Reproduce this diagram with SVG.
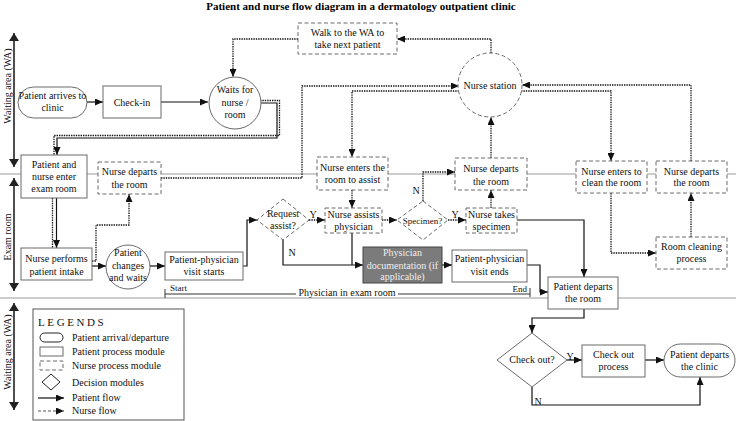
<svg xmlns="http://www.w3.org/2000/svg" width="736" height="421" viewBox="0 0 736 421">
<style>
.t{font-family:"Liberation Serif","Times New Roman",serif;font-size:10px;text-anchor:middle;fill:#111}
.tl{font-family:"Liberation Serif","Times New Roman",serif;font-size:10px;fill:#111}
.pb{fill:#fff;stroke:#6a6a6a;stroke-width:1}
.nb{fill:#fff;stroke:#6a6a6a;stroke-width:1;stroke-dasharray:4 2.5}
.pf{fill:none;stroke:#111;stroke-width:1.2}
.nf{fill:none;stroke:#111;stroke-width:1.3;stroke-dasharray:1.4 1}
.sep{stroke:#9a9a9a;stroke-width:1}
.ax{stroke:#222;stroke-width:1.6}
</style>
<defs>
<marker id="a" viewBox="0 0 8 7" refX="8" refY="3.5" markerWidth="8" markerHeight="7" markerUnits="userSpaceOnUse" orient="auto"><path d="M0,0L8,3.5L0,7z" fill="#111"/></marker>
<marker id="ax" viewBox="0 0 8 10" refX="8" refY="5" markerWidth="8" markerHeight="10" markerUnits="userSpaceOnUse" orient="auto"><path d="M0,0L8,5L0,10z" fill="#222"/></marker>
</defs>

<text x="361" y="10" style="font-family:'Liberation Serif',serif;font-size:11px;font-weight:bold;text-anchor:middle">Patient and nurse flow diagram in a dermatology outpatient clinic</text>

<g id="separators">
<line class="sep" x1="0" y1="174" x2="736" y2="174"/>
<line class="sep" x1="0" y1="298" x2="736" y2="298"/>
</g>

<g id="axes">
<line class="ax" x1="14" y1="100" x2="14" y2="33" marker-end="url(#ax)"/>
<line class="ax" x1="14" y1="100" x2="14" y2="167" marker-end="url(#ax)"/>
<text class="t" transform="translate(11,86) rotate(-90)">Waiting area (WA)</text>
<line class="ax" x1="14" y1="235" x2="14" y2="178" marker-end="url(#ax)"/>
<line class="ax" x1="14" y1="235" x2="14" y2="291" marker-end="url(#ax)"/>
<text class="t" transform="translate(11,237) rotate(-90)">Exam room</text>
<line class="ax" x1="14" y1="356" x2="14" y2="303" marker-end="url(#ax)"/>
<line class="ax" x1="14" y1="356" x2="14" y2="410" marker-end="url(#ax)"/>
<text class="t" transform="translate(11,352) rotate(-90)">Waiting area (WA)</text>
</g>

<g id="bracket">
<line x1="165" y1="289" x2="165" y2="298" stroke="#333"/>
<line x1="530" y1="288" x2="530" y2="297" stroke="#333"/>
<line x1="165" y1="294" x2="296" y2="294" stroke="#333"/>
<line x1="398" y1="294" x2="530" y2="294" stroke="#333"/>
<text class="tl" x="170" y="291" style="font-size:9px">Start</text>
<text class="tl" x="527" y="292" style="font-size:9px;text-anchor:end">End</text>
<text class="t" x="347" y="296">Physician in exam room</text>
</g>

<g id="connectors">
<path class="pf" d="M87,102H103" marker-end="url(#a)"/>
<path class="pf" d="M161,102H208" marker-end="url(#a)"/>
<path class="pf" d="M260,103H277V138H57V155" marker-end="url(#a)"/>
<path class="nf" d="M260,100.5H279.5V135.5H54V155"/>
<path class="pf" d="M56.5,198V248" marker-end="url(#a)"/>
<path class="nf" d="M52.5,198V248"/>
<path class="pf" d="M92,266H106" marker-end="url(#a)"/>
<path class="pf" d="M150,266H165" marker-end="url(#a)"/>
<path class="pf" d="M243,266H247V220H257" marker-end="url(#a)"/>
<path class="pf" d="M283,240V265H363" marker-end="url(#a)"/>
<path class="pf" d="M352,233V265"/>
<path class="pf" d="M442,265H452" marker-end="url(#a)"/>
<path class="pf" d="M527,265H540V292H548" marker-end="url(#a)"/>
<path class="pf" d="M517,220H584V277" marker-end="url(#a)"/>
<path class="pf" d="M584,309V318H532V333" marker-end="url(#a)"/>
<path class="pf" d="M567,360H582" marker-end="url(#a)"/>
<path class="pf" d="M645,360H664" marker-end="url(#a)"/>
<path class="pf" d="M532,387V405H700V377" marker-end="url(#a)"/>

<path class="nf" d="M491,53V39H397" marker-end="url(#a)"/>
<path class="nf" d="M298,39H233V77" marker-end="url(#a)"/>
<path class="nf" d="M161,178H302V86H459" marker-end="url(#a)"/>
<path class="nf" d="M459,91H352V157" marker-end="url(#a)"/>
<path class="nf" d="M352,190V208" marker-end="url(#a)"/>
<path class="nf" d="M309,220H325" marker-end="url(#a)"/>
<path class="nf" d="M382,220H397" marker-end="url(#a)"/>
<path class="nf" d="M423,201V172H455" marker-end="url(#a)"/>
<path class="nf" d="M448,220H466" marker-end="url(#a)"/>
<path class="nf" d="M491,208V190" marker-end="url(#a)"/>
<path class="nf" d="M491,158V117" marker-end="url(#a)"/>
<path class="nf" d="M92,261H96V225H129V194" marker-end="url(#a)"/>
<path class="nf" d="M521,91H611V161" marker-end="url(#a)"/>
<path class="nf" d="M611,193V253H656" marker-end="url(#a)"/>
<path class="nf" d="M691,237V193" marker-end="url(#a)"/>
<path class="nf" d="M691,161V85H522" marker-end="url(#a)"/>

<text class="t" x="313" y="218">Y</text>
<text class="t" x="292" y="256">N</text>
<text class="t" x="416" y="194">N</text>
<text class="t" x="455" y="218">Y</text>
<text class="t" x="570" y="360">Y</text>
<text class="t" x="538" y="405">N</text>
</g>

<g id="arrives"><rect class="pb" x="18" y="87" width="69" height="31" rx="15.5"/><text class="t" x="52.5" y="99">Patient arrives to</text><text class="t" x="52.5" y="111">clinic</text></g>
<g id="checkin"><rect class="pb" x="103" y="86" width="58" height="32"/><text class="t" x="132" y="106">Check-in</text></g>
<g id="waits"><circle class="pb" cx="235" cy="103" r="26"/><text class="t" x="235" y="93">Waits for</text><text class="t" x="235" y="106">nurse /</text><text class="t" x="235" y="118">room</text></g>
<g id="walk"><rect class="nb" x="298" y="23" width="99" height="31"/><text class="t" x="347.5" y="36">Walk to the WA to</text><text class="t" x="347.5" y="48">take next patient</text></g>
<g id="station"><circle class="nb" cx="490" cy="85" r="32"/><text class="t" x="490" y="89">Nurse station</text></g>
<g id="enter"><rect class="pb" x="21" y="155" width="66" height="43"/><text class="t" x="54" y="168">Patient and</text><text class="t" x="54" y="180">nurse enter</text><text class="t" x="54" y="192">exam room</text></g>
<g id="departs1"><rect class="nb" x="98" y="162" width="63" height="32"/><text class="t" x="129.5" y="175">Nurse departs</text><text class="t" x="129.5" y="188">the room</text></g>
<g id="intake"><rect class="pb" x="21" y="248" width="71" height="32"/><text class="t" x="56.5" y="262">Nurse performs</text><text class="t" x="56.5" y="275">patient intake</text></g>
<g id="changes"><circle class="pb" cx="128" cy="267" r="22"/><text class="t" x="128" y="256">Patient</text><text class="t" x="128" y="269">changes</text><text class="t" x="128" y="281">and waits</text></g>
<g id="vstart"><rect class="pb" x="165" y="252" width="78" height="28"/><text class="t" x="204" y="263">Patient-physician</text><text class="t" x="204" y="275">visit starts</text></g>
<g id="request"><path class="nb" d="M283,199L309,220L283,240L257,220z"/><text class="t" x="283" y="217">Request</text><text class="t" x="283" y="229">assist?</text></g>
<g id="enterassist"><rect class="nb" x="317" y="157" width="71" height="33"/><text class="t" x="352.5" y="171">Nurse enters the</text><text class="t" x="352.5" y="183">room to assist</text></g>
<g id="assists"><rect class="nb" x="325" y="208" width="57" height="25"/><text class="t" x="353.5" y="218">Nurse assists</text><text class="t" x="353.5" y="230">physician</text></g>
<g id="specimen"><path class="nb" d="M423,201L448,220L423,240L397,220z"/><text class="t" x="422.5" y="224" style="font-size:9px">Specimen?</text></g>
<g id="departs2"><rect class="nb" x="455" y="158" width="72" height="32"/><text class="t" x="491" y="172">Nurse departs</text><text class="t" x="491" y="185">the room</text></g>
<g id="takes"><rect class="nb" x="466" y="208" width="51" height="25"/><text class="t" x="491.5" y="218">Nurse takes</text><text class="t" x="491.5" y="230">specimen</text></g>
<g id="documentation"><rect x="363" y="247" width="79" height="36" fill="#7b7b7b" stroke="#444"/><text class="t" x="402.5" y="256" style="fill:#eee">Physician</text><text class="t" x="402.5" y="269" style="fill:#eee">documentation (if</text><text class="t" x="402.5" y="280" style="fill:#eee">applicable)</text></g>
<g id="vends"><rect class="pb" x="452" y="250" width="75" height="32"/><text class="t" x="489.5" y="262">Patient-physician</text><text class="t" x="489.5" y="275">visit ends</text></g>
<g id="departsroom"><rect class="pb" x="548" y="277" width="70" height="32"/><text class="t" x="583" y="290">Patient departs</text><text class="t" x="583" y="302">the room</text></g>
<g id="cleanenter"><rect class="nb" x="576" y="161" width="71" height="32"/><text class="t" x="611.5" y="175">Nurse enters to</text><text class="t" x="611.5" y="186">clean the room</text></g>
<g id="departs3"><rect class="nb" x="656" y="161" width="71" height="32"/><text class="t" x="691.5" y="175">Nurse departs</text><text class="t" x="691.5" y="186">the room</text></g>
<g id="cleaning"><rect class="nb" x="656" y="237" width="71" height="32"/><text class="t" x="691.5" y="250">Room cleaning</text><text class="t" x="691.5" y="262">process</text></g>
<g id="checkout"><path class="pb" d="M532,333L567,360L532,387L497,360z"/><text class="t" x="532" y="363">Check out?</text></g>
<g id="process"><rect class="pb" x="582" y="345" width="63" height="32"/><text class="t" x="613.5" y="358">Check out</text><text class="t" x="613.5" y="370">process</text></g>
<g id="departsclinic"><rect class="pb" x="664" y="344" width="71" height="33" rx="16.5"/><text class="t" x="699.5" y="358">Patient departs</text><text class="t" x="699.5" y="370">the clinic</text></g>

<g id="legend">
<rect x="33" y="309" width="151" height="111" fill="#fff" stroke="#555"/>
<text class="tl" x="38" y="326" style="font-size:11px;letter-spacing:2.6px">LEGENDS</text>
<rect class="pb" x="40" y="333" width="23" height="9" rx="4.5" style="stroke:#222"/>
<text class="tl" x="72" y="341">Patient arrival/departure</text>
<rect class="pb" x="40" y="347" width="23" height="9"/>
<text class="tl" x="72" y="355">Patient process module</text>
<rect class="nb" x="40" y="361" width="23" height="9"/>
<text class="tl" x="72" y="369">Nurse process module</text>
<path d="M51,374L60,382L51,390L42,382z" fill="#fff" stroke="#222"/>
<text class="tl" x="72" y="386">Decision modules</text>
<path class="pf" d="M38,398H64" marker-end="url(#a)"/>
<text class="tl" x="72" y="401">Patient flow</text>
<path d="M38,411H64" fill="none" stroke="#555" stroke-width="1.2" stroke-dasharray="3 2" marker-end="url(#a)"/>
<text class="tl" x="72" y="414">Nurse flow</text>
</g>
</svg>
